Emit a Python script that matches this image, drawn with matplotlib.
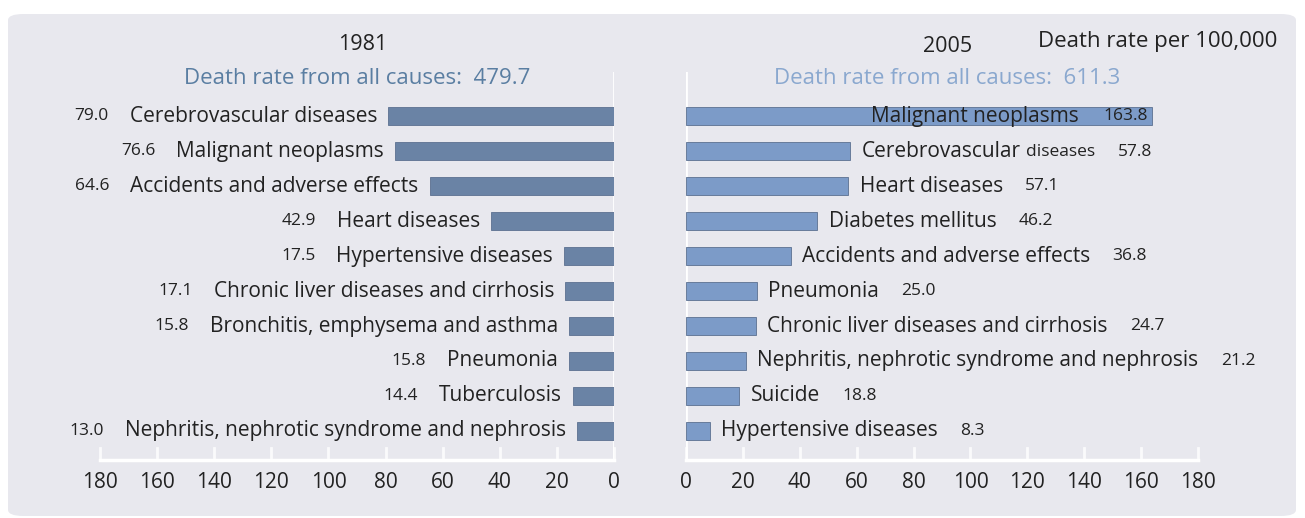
import matplotlib.pyplot as plt
from matplotlib.patches import FancyBboxPatch

# 1981
causes_1981 = ["Cerebrovascular diseases", "Malignant neoplasms",
               "Accidents and adverse effects", "Heart diseases",
               "Hypertensive diseases", "Chronic liver diseases and cirrhosis",
               "Bronchitis, emphysema and asthma", "Pneumonia", "Tuberculosis",
               "Nephritis, nephrotic syndrome and nephrosis"]
rates_1981 = [79.0, 76.6, 64.6, 42.9, 17.5, 17.1, 15.8, 15.8, 14.4, 13.0]

# 2005
causes_2005 = ["Malignant neoplasms", "Cerebrovascular diseases", "Heart diseases",
               "Diabetes mellitus", "Accidents and adverse effects", "Pneumonia",
               "Chronic liver diseases and cirrhosis",
               "Nephritis, nephrotic syndrome and nephrosis", "Suicide",
               "Hypertensive diseases"]
rates_2005 = [163.8, 57.8, 57.1, 46.2, 36.8, 25.0, 24.7, 21.2, 18.8, 8.3]

ticks = [0, 20, 40, 60, 80, 100, 120, 140, 160, 180]

plt.rcParams['font.family'] = ['Open Sans', 'DejaVu Sans']

W, H = 1305, 518
fig = plt.figure(figsize=(W / 100, H / 100), dpi=100)
bg = '#e8e8ee'
fig.patches.append(FancyBboxPatch((8 / W, 2 / H), 1288 / W, 502 / H,
                                  boxstyle='round,pad=0,rounding_size=0.012',
                                  transform=fig.transFigure, facecolor=bg,
                                  edgecolor='none', zorder=-10))

def fx(px):
    return px / W

def fy(py):
    return 1 - py / H

bottom, top = fy(460), fy(72)
ax_l = fig.add_axes([fx(100), bottom, fx(614) - fx(100), top - bottom])
ax_r = fig.add_axes([fx(686), bottom, fx(1198) - fx(686), top - bottom])

lab_fs = 15
num_fs = 12.5
txt = '#222222'

for ax, rates, color in [(ax_l, rates_1981, '#6a83a5'), (ax_r, rates_2005, '#7c9bc8')]:
    ax.set_facecolor('none')
    y = list(range(len(rates)))
    ax.barh(y, rates, height=0.5, color=color, edgecolor='#5c7090', linewidth=0.6, zorder=3)
    ax.set_ylim(9.83, -1.26)
    ax.set_xlim(0, 180)
    ax.set_xticks(ticks)
    ax.set_yticks([])
    for s in ax.spines.values():
        s.set_visible(False)
    ax.tick_params(axis='x', length=0, labelsize=15, colors=txt, pad=9)
    ax.axhline(9.83, color='white', lw=2.5, zorder=1, clip_on=False)
    for t in ticks:
        ax.plot([t, t], [9.83, 9.5], color='white', lw=2, alpha=0.8, zorder=1, clip_on=False)
    ax.axvline(0, color='white', lw=2, zorder=1)

ax_l.invert_xaxis()

# left labels
for i, (c, v) in enumerate(zip(causes_1981, rates_1981)):
    t = ax_l.annotate(c, (v, i), xytext=(-8, 0), textcoords='offset points',
                      ha='right', va='center', fontsize=lab_fs, color=txt)
    ax_l.annotate(f"{v:.1f}", (0, 0.5), xycoords=t, xytext=(-15, 0),
                  textcoords='offset points', ha='right', va='center',
                  fontsize=num_fs, color=txt)

# right labels
for i, (c, v) in enumerate(zip(causes_2005, rates_2005)):
    if i == 0:
        n = ax_r.annotate(f"{v:.1f}", (v, i), xytext=(-3, 0), textcoords='offset points',
                          ha='right', va='center', fontsize=num_fs, color=txt, zorder=5)
        ax_r.annotate(c, (0, 0.5), xycoords=n, xytext=(-18, 0), textcoords='offset points',
                      ha='right', va='center', fontsize=lab_fs, color=txt, zorder=5)
        continue
    if c == "Cerebrovascular diseases":
        t = ax_r.annotate("Cerebrovascular", (v, i), xytext=(8, 0), textcoords='offset points',
                          ha='left', va='center', fontsize=lab_fs, color=txt)
        t = ax_r.annotate("diseases", (1, 0.5), xycoords=t, xytext=(4, -0.5),
                          textcoords='offset points', ha='left', va='center',
                          fontsize=num_fs, color=txt)
    else:
        t = ax_r.annotate(c, (v, i), xytext=(8, 0), textcoords='offset points',
                          ha='left', va='center', fontsize=lab_fs, color=txt)
    ax_r.annotate(f"{v:.1f}", (1, 0.5), xycoords=t, xytext=(16, 0),
                  textcoords='offset points', ha='left', va='center',
                  fontsize=num_fs, color=txt, annotation_clip=False)

fig.text(fx(363), fy(45), "1981", ha='center', va='center', fontsize=15.5, color=txt)
fig.text(fx(948), fy(47), "2005", ha='center', va='center', fontsize=15.5, color=txt)
fig.text(fx(1277), fy(41), "Death rate per 100,000", ha='right', va='center',
         fontsize=16, color=txt)
fig.text(fx(357), fy(79), "Death rate from all causes:  479.7", ha='center', va='center',
         fontsize=16, color='#5a7ea2')
fig.text(fx(947), fy(79), "Death rate from all causes:  611.3", ha='center', va='center',
         fontsize=16, color='#8aa8cf')

fig.savefig('out.png', dpi=100, facecolor='white')
